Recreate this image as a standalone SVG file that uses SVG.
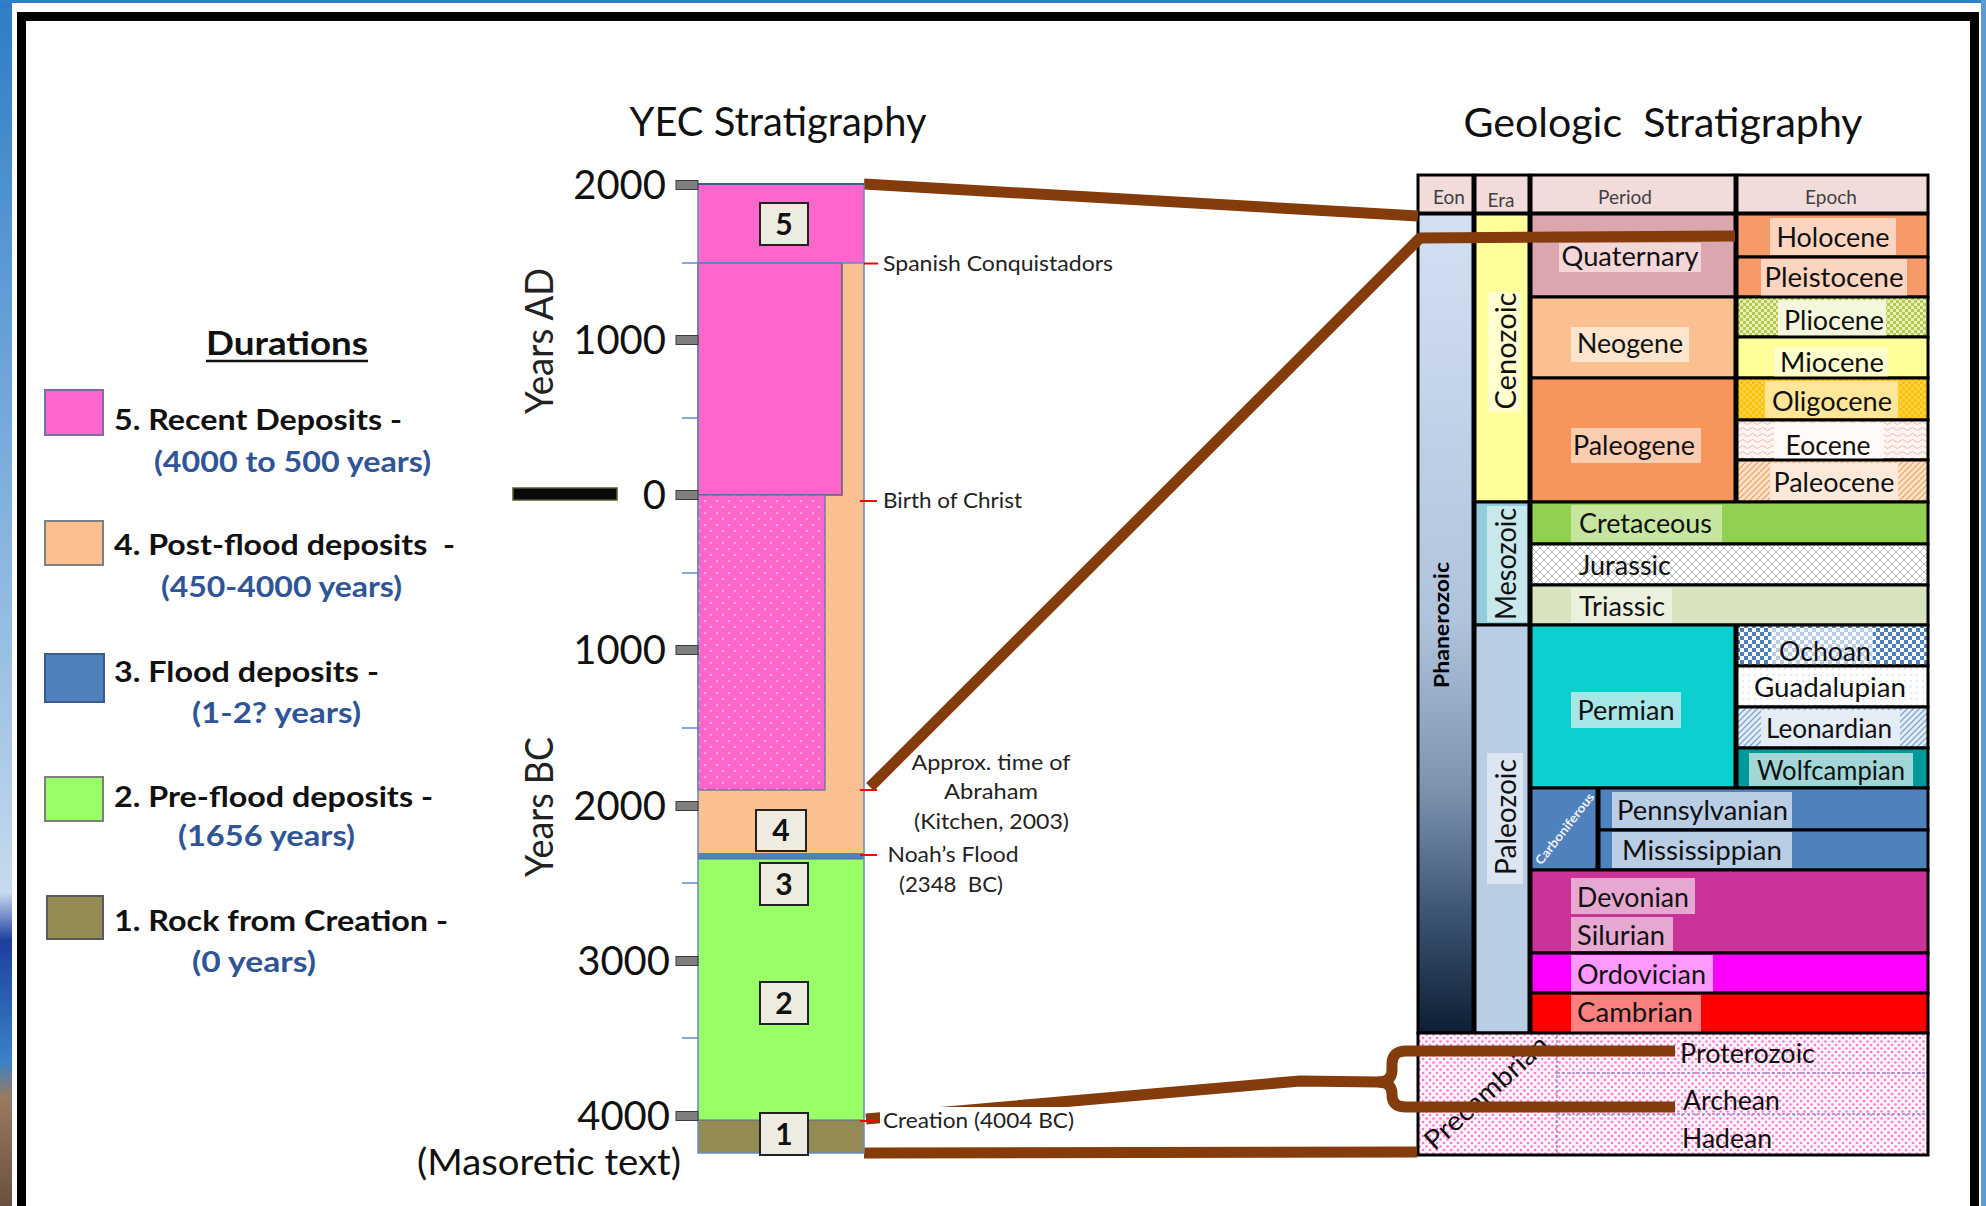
<svg xmlns="http://www.w3.org/2000/svg" width="1986" height="1206" viewBox="0 0 1986 1206">
<style>
text{font-family:Lato,"Liberation Sans",sans-serif;}
.tick{font-size:40px;fill:#111;text-anchor:end}
.leg{font-size:28px;font-weight:bold;fill:#111}
.legb{font-size:28px;font-weight:bold;fill:#2F5597}
.ann{font-size:22px;fill:#222}
.lbl{font-size:27px;fill:#111}
.mid{text-anchor:middle}
.hdr{font-size:19px;fill:#404040;text-anchor:middle}
.box{fill:#EEECE1;stroke:#222;stroke-width:2}
.boxt{font-size:30px;font-weight:bold;text-anchor:middle;fill:#111}
.conn{stroke:#843C0C;stroke-width:11;fill:none;stroke-linejoin:round}
.cell{stroke:#000;stroke-width:3}
.tk{fill:#7F7F7F;stroke:#3A3A3A;stroke-width:1}
.mt{stroke:#5B8BD0;stroke-width:1.5}
.rt{stroke:#FF0000;stroke-width:2}
.dl{stroke:#8C8CCC;stroke-width:1.5;stroke-dasharray:3 2}
</style>
<defs>
<linearGradient id="leftBg" x1="0" y1="0" x2="0" y2="1">
<stop offset="0" stop-color="#2D7DC6"/><stop offset="0.3" stop-color="#6CA3D8"/><stop offset="0.6" stop-color="#A6C6E6"/><stop offset="0.74" stop-color="#C8DAEE"/><stop offset="0.78" stop-color="#1E3E9E"/><stop offset="0.88" stop-color="#3A82C8"/><stop offset="0.91" stop-color="#9A7A60"/><stop offset="1" stop-color="#6A5040"/>
</linearGradient>
<linearGradient id="phan" x1="0" y1="0" x2="0" y2="1">
<stop offset="0" stop-color="#D3E0F2"/><stop offset="0.5" stop-color="#AFC3DC"/><stop offset="0.7" stop-color="#7D93B0"/><stop offset="0.86" stop-color="#3A5272"/><stop offset="1" stop-color="#0E1E33"/>
</linearGradient>
<pattern id="pcDots" width="7" height="7" patternUnits="userSpaceOnUse"><rect width="7" height="7" fill="#FFF4FB"/><circle cx="2" cy="2" r="1.3" fill="#FF77D0"/><circle cx="5.5" cy="5.5" r="1.3" fill="#FF77D0"/></pattern>
<pattern id="yecDots" width="12" height="12" patternUnits="userSpaceOnUse"><rect width="12" height="12" fill="#FF66CC"/><circle cx="3" cy="3" r="1.2" fill="#FFB0D8"/><circle cx="9" cy="9" r="1.2" fill="#FFB0D8"/></pattern>
<pattern id="jur" width="8" height="8" patternUnits="userSpaceOnUse"><rect width="8" height="8" fill="#FFFFFF"/><path d="M0,0 L8,8 M8,0 L0,8" stroke="#B8B8B8" stroke-width="1"/></pattern>
<pattern id="plio" width="6" height="6" patternUnits="userSpaceOnUse"><rect width="6" height="6" fill="#E9F0BC"/><rect width="3" height="3" fill="#B5C94A"/><rect x="3" y="3" width="3" height="3" fill="#B5C94A"/></pattern>
<pattern id="oligo" width="6" height="6" patternUnits="userSpaceOnUse"><rect width="6" height="6" fill="#FFC000"/><rect width="3" height="3" fill="#FFD24D"/><rect x="3" y="3" width="3" height="3" fill="#FFD24D"/></pattern>
<pattern id="eoc" width="10" height="6" patternUnits="userSpaceOnUse"><rect width="10" height="6" fill="#FFF6F2"/><path d="M0,3 Q2.5,0 5,3 T10,3" stroke="#F4B8A8" fill="none" stroke-width="1"/></pattern>
<pattern id="paleoc" width="6" height="6" patternUnits="userSpaceOnUse"><rect width="6" height="6" fill="#FDE3CC"/><path d="M0,6 L6,0 M-1,1 L1,-1 M5,7 L7,5" stroke="#F5A866" stroke-width="1.3"/></pattern>
<pattern id="ochoan" width="8" height="8" patternUnits="userSpaceOnUse"><rect width="8" height="8" fill="#FFFFFF"/><rect width="4" height="4" fill="#4F81BD"/><rect x="4" y="4" width="4" height="4" fill="#4F81BD"/></pattern>
<pattern id="guad" width="6" height="6" patternUnits="userSpaceOnUse"><rect width="6" height="6" fill="#FFFFFF"/><circle cx="3" cy="3" r="0.8" fill="#C8D0E0"/></pattern>
<pattern id="leon" width="6" height="6" patternUnits="userSpaceOnUse"><rect width="6" height="6" fill="#E4ECF6"/><path d="M0,6 L6,0 M-1,1 L1,-1 M5,7 L7,5" stroke="#7FA4D4" stroke-width="1.3"/></pattern>
</defs>

<g id="background">
<rect x="0" y="0" width="1986" height="1206" fill="#FFFFFF"/>
<rect x="0" y="0" width="12" height="1206" fill="url(#leftBg)"/>
<rect x="0" y="0" width="1986" height="3" fill="#2F80C8"/>
<rect x="1981" y="0" width="5" height="1206" fill="#5C9AD4"/>
<rect x="21.5" y="16.5" width="1953" height="1195" fill="#FFFFFF" stroke="#000" stroke-width="9"/>
</g>

<g id="titles">
<text x="778" y="136" class="mid" font-size="40" fill="#111" textLength="297" lengthAdjust="spacingAndGlyphs">YEC Stratigraphy</text>
<text x="1663" y="137" class="mid" font-size="40" fill="#111" textLength="399" lengthAdjust="spacingAndGlyphs" xml:space="preserve">Geologic  Stratigraphy</text>
</g>

<g id="legend">
<text x="287" y="355" class="mid" font-size="32" font-weight="bold" fill="#111" textLength="162" lengthAdjust="spacingAndGlyphs">Durations</text>
<line x1="206" y1="361" x2="368" y2="361" stroke="#111" stroke-width="2.5"/>
<g id="leg5"><rect x="45" y="390" width="58" height="45" fill="#FF66CC" stroke="#7F6FA0" stroke-width="2"/>
<text x="114" y="430" class="leg" textLength="288" lengthAdjust="spacingAndGlyphs">5. Recent Deposits -</text>
<text x="154" y="472" class="legb" textLength="277" lengthAdjust="spacingAndGlyphs">(4000 to 500 years)</text></g>
<g id="leg4"><rect x="45" y="521" width="58" height="44" fill="#FAC090" stroke="#7F7F7F" stroke-width="2"/>
<text x="114" y="555" class="leg" textLength="341" lengthAdjust="spacingAndGlyphs" xml:space="preserve">4. Post-flood deposits  -</text>
<text x="161" y="597" class="legb" textLength="241" lengthAdjust="spacingAndGlyphs">(450-4000 years)</text></g>
<g id="leg3"><rect x="45" y="654" width="59" height="48" fill="#4F81BD" stroke="#385D8A" stroke-width="2"/>
<text x="114" y="682" class="leg" textLength="265" lengthAdjust="spacingAndGlyphs">3. Flood deposits -</text>
<text x="192" y="723" class="legb" textLength="169" lengthAdjust="spacingAndGlyphs">(1-2? years)</text></g>
<g id="leg2"><rect x="45" y="777" width="58" height="44" fill="#99FF66" stroke="#7F7F7F" stroke-width="2"/>
<text x="114" y="807" class="leg" textLength="319" lengthAdjust="spacingAndGlyphs">2. Pre-flood deposits -</text>
<text x="178" y="846" class="legb" textLength="177" lengthAdjust="spacingAndGlyphs">(1656 years)</text></g>
<g id="leg1"><rect x="47" y="896" width="56" height="43" fill="#948A54" stroke="#5A5A5A" stroke-width="2"/>
<text x="114" y="931" class="leg" textLength="334" lengthAdjust="spacingAndGlyphs">1. Rock from Creation -</text>
<text x="192" y="972" class="legb" textLength="124" lengthAdjust="spacingAndGlyphs">(0 years)</text></g>
</g>

<g id="geologic-table">
<g id="header">
<rect x="1418" y="175" width="55" height="38" fill="#F2DCDB" class="cell"/>
<rect x="1475" y="175" width="54" height="38" fill="#F2DCDB" class="cell"/>
<rect x="1531" y="175" width="204" height="38" fill="#F2DCDB" class="cell"/>
<rect x="1737" y="175" width="191" height="38" fill="#F2DCDB" class="cell"/>
<text x="1449" y="204" class="hdr">Eon</text>
<text x="1501" y="207" class="hdr">Era</text>
<text x="1625" y="204" class="hdr">Period</text>
<text x="1831" y="204" class="hdr">Epoch</text>
</g>
<g id="eon-phanerozoic">
<rect x="1418" y="214" width="55" height="819" fill="url(#phan)" class="cell"/>
<text x="1442" y="632" transform="rotate(-90 1442 625)" class="mid" font-size="20" font-weight="bold" fill="#000" textLength="126" lengthAdjust="spacingAndGlyphs">Phanerozoic</text>
</g>
<g id="era-cenozoic">
<rect x="1475" y="214" width="54" height="288" fill="#FFFF99" class="cell"/>
<rect x="1488" y="292" width="33" height="120" fill="#FFFFD0"/>
<text x="1506" y="361" transform="rotate(-90 1506 351)" class="mid" font-size="28" fill="#111" textLength="117" lengthAdjust="spacingAndGlyphs">Cenozoic</text>
</g>
<g id="era-mesozoic">
<rect x="1475" y="502" width="54" height="123" fill="#93CDDD" class="cell"/>
<rect x="1487" y="506" width="40" height="116" fill="#C9E8EC"/>
<text x="1506" y="574" transform="rotate(-90 1506 564)" class="mid" font-size="28" fill="#111" textLength="112" lengthAdjust="spacingAndGlyphs">Mesozoic</text>
</g>
<g id="era-paleozoic">
<rect x="1475" y="625" width="54" height="408" fill="#B9CDE5" class="cell"/>
<rect x="1487" y="753" width="36" height="131" fill="#DCE6F2"/>
<text x="1506" y="827" transform="rotate(-90 1506 817)" class="mid" font-size="28" fill="#111" textLength="116" lengthAdjust="spacingAndGlyphs">Paleozoic</text>
</g>

<g id="quaternary"><rect x="1531" y="214" width="204" height="83" fill="#DBA6AD" class="cell"/>
<rect x="1559" y="243" width="142" height="29" fill="#F2D6D8"/>
<text x="1630" y="266" class="lbl mid" textLength="137" lengthAdjust="spacingAndGlyphs">Quaternary</text></g>
<g id="neogene"><rect x="1531" y="297" width="204" height="81" fill="#FAC090" class="cell"/>
<rect x="1571" y="327" width="118" height="35" fill="#FDE4CC"/>
<text x="1630" y="353" class="lbl mid" textLength="106" lengthAdjust="spacingAndGlyphs">Neogene</text></g>
<g id="paleogene"><rect x="1531" y="378" width="204" height="124" fill="#F8955D" class="cell"/>
<rect x="1571" y="428" width="130" height="35" fill="#FBCDB0"/>
<text x="1634" y="455" class="lbl mid" textLength="122" lengthAdjust="spacingAndGlyphs">Paleogene</text></g>

<g id="holocene"><rect x="1737" y="214" width="191" height="43" fill="#F79A6A" class="cell"/>
<rect x="1770" y="218" width="126" height="37" fill="#FBD5C0"/>
<text x="1833" y="247" class="lbl mid" textLength="113" lengthAdjust="spacingAndGlyphs">Holocene</text></g>
<g id="pleistocene"><rect x="1737" y="257" width="191" height="40" fill="#F79A6A" class="cell"/>
<rect x="1761" y="259" width="146" height="37" fill="#FBD5C0"/>
<text x="1834" y="287" class="lbl mid" textLength="139" lengthAdjust="spacingAndGlyphs">Pleistocene</text></g>
<g id="pliocene"><rect x="1737" y="297" width="191" height="40" fill="url(#plio)" class="cell"/>
<rect x="1778" y="300" width="108" height="36" fill="#F4F7DC"/>
<text x="1834" y="330" class="lbl mid" textLength="100" lengthAdjust="spacingAndGlyphs">Pliocene</text></g>
<g id="miocene"><rect x="1737" y="337" width="191" height="41" fill="#FFFF99" class="cell"/>
<rect x="1774" y="347" width="114" height="30" fill="#FFFFCC"/>
<text x="1832" y="372" class="lbl mid" textLength="104" lengthAdjust="spacingAndGlyphs">Miocene</text></g>
<g id="oligocene"><rect x="1737" y="378" width="191" height="42" fill="url(#oligo)" class="cell"/>
<rect x="1765" y="381" width="133" height="37" fill="#FFE699"/>
<text x="1832" y="411" class="lbl mid" textLength="120" lengthAdjust="spacingAndGlyphs">Oligocene</text></g>
<g id="eocene"><rect x="1737" y="420" width="191" height="40" fill="url(#eoc)" class="cell"/>
<rect x="1774" y="423" width="110" height="36" fill="#FFFAF8"/>
<text x="1828" y="455" class="lbl mid" textLength="85" lengthAdjust="spacingAndGlyphs">Eocene</text></g>
<g id="paleocene"><rect x="1737" y="460" width="191" height="42" fill="url(#paleoc)" class="cell"/>
<rect x="1770" y="463" width="128" height="37" fill="#FDE9D9"/>
<text x="1834" y="492" class="lbl mid" textLength="121" lengthAdjust="spacingAndGlyphs">Paleocene</text></g>

<g id="cretaceous"><rect x="1531" y="502" width="397" height="42" fill="#92D050" class="cell"/>
<rect x="1571" y="505" width="151" height="37" fill="#C6E6A0"/>
<text x="1579" y="533" class="lbl" textLength="133" lengthAdjust="spacingAndGlyphs">Cretaceous</text></g>
<g id="jurassic"><rect x="1531" y="544" width="397" height="41" fill="url(#jur)" class="cell"/>
<text x="1579" y="575" class="lbl" textLength="92" lengthAdjust="spacingAndGlyphs">Jurassic</text></g>
<g id="triassic"><rect x="1531" y="585" width="397" height="40" fill="#D7E4BD" class="cell"/>
<rect x="1571" y="588" width="101" height="35" fill="#EBF1DE"/>
<text x="1579" y="616" class="lbl" textLength="86" lengthAdjust="spacingAndGlyphs">Triassic</text></g>

<g id="permian"><rect x="1531" y="625" width="204" height="163" fill="#0CCFCF" class="cell"/>
<rect x="1571" y="692" width="110" height="36" fill="#A6E6E6"/>
<text x="1626" y="720" class="lbl mid" textLength="97" lengthAdjust="spacingAndGlyphs">Permian</text></g>
<g id="ochoan"><rect x="1737" y="625" width="191" height="41" fill="url(#ochoan)" class="cell"/>
<rect x="1771" y="628" width="102" height="36" fill="#FFFFFF" fill-opacity="0.6"/>
<text x="1825" y="661" class="lbl mid" textLength="92" lengthAdjust="spacingAndGlyphs">Ochoan</text></g>
<g id="guadalupian"><rect x="1737" y="666" width="191" height="41" fill="url(#guad)" class="cell"/>
<text x="1830" y="697" class="lbl mid" textLength="152" lengthAdjust="spacingAndGlyphs">Guadalupian</text></g>
<g id="leonardian"><rect x="1737" y="707" width="191" height="41" fill="url(#leon)" class="cell"/>
<rect x="1761" y="710" width="139" height="36" fill="#E4ECF6"/>
<text x="1829" y="738" class="lbl mid" textLength="126" lengthAdjust="spacingAndGlyphs">Leonardian</text></g>
<g id="wolfcampian"><rect x="1737" y="748" width="191" height="40" fill="#009999" class="cell"/>
<rect x="1749" y="753" width="164" height="33" fill="#A0D6D6"/>
<text x="1831" y="780" class="lbl mid" textLength="148" lengthAdjust="spacingAndGlyphs">Wolfcampian</text></g>

<g id="carboniferous"><rect x="1531" y="788" width="66" height="82" fill="#4F81BD" class="cell"/>
<text x="1565" y="833" transform="rotate(-52 1565 829)" class="mid" font-size="12.5" font-weight="bold" fill="#F2F2F2" textLength="87" lengthAdjust="spacingAndGlyphs">Carboniferous</text></g>
<g id="pennsylvanian"><rect x="1599" y="788" width="329" height="42" fill="#4F81BD" class="cell"/>
<rect x="1612" y="792" width="180" height="36" fill="#B9CDE5"/>
<text x="1617" y="820" class="lbl" textLength="171" lengthAdjust="spacingAndGlyphs">Pennsylvanian</text></g>
<g id="mississippian"><rect x="1599" y="830" width="329" height="40" fill="#4F81BD" class="cell"/>
<rect x="1612" y="832" width="180" height="36" fill="#B9CDE5"/>
<text x="1622" y="860" class="lbl" textLength="160" lengthAdjust="spacingAndGlyphs">Mississippian</text></g>

<g id="devonian-silurian"><rect x="1531" y="870" width="397" height="83" fill="#CC3399" class="cell"/>
<rect x="1571" y="878" width="124" height="36" fill="#E6A8D0"/>
<rect x="1571" y="917" width="102" height="34" fill="#E6A8D0"/>
<text x="1577" y="907" class="lbl" textLength="112" lengthAdjust="spacingAndGlyphs">Devonian</text>
<text x="1577" y="945" class="lbl" textLength="88" lengthAdjust="spacingAndGlyphs">Silurian</text></g>
<g id="ordovician"><rect x="1531" y="953" width="397" height="40" fill="#FF00FF" class="cell"/>
<rect x="1571" y="955" width="142" height="37" fill="#FF99FF"/>
<text x="1577" y="984" class="lbl" textLength="129" lengthAdjust="spacingAndGlyphs">Ordovician</text></g>
<g id="cambrian"><rect x="1531" y="993" width="397" height="40" fill="#FF0000" class="cell"/>
<rect x="1571" y="995" width="130" height="37" fill="#FF8080"/>
<text x="1577" y="1022" class="lbl" textLength="116" lengthAdjust="spacingAndGlyphs">Cambrian</text></g>

<g id="precambrian"><rect x="1418" y="1033" width="510" height="122" fill="url(#pcDots)" class="cell"/>
<line x1="1557" y1="1035" x2="1557" y2="1153" class="dl"/>
<line x1="1557" y1="1073" x2="1926" y2="1073" class="dl"/>
<line x1="1557" y1="1114" x2="1926" y2="1114" class="dl"/>
<text x="1486" y="1101.7" transform="rotate(-42 1486 1092)" class="lbl mid" textLength="156" lengthAdjust="spacingAndGlyphs">Precambrian</text>
<text x="1680" y="1063" class="lbl" textLength="135" lengthAdjust="spacingAndGlyphs">Proterozoic</text>
<text x="1683" y="1110" class="lbl" textLength="97" lengthAdjust="spacingAndGlyphs">Archean</text>
<text x="1682" y="1148" class="lbl" textLength="90" lengthAdjust="spacingAndGlyphs">Hadean</text></g>
</g>

<g id="connectors">
<path class="conn" stroke-width="12" d="M864,184 L1418,216"/>
<path class="conn" d="M870,787 L1420,238 L1735,236"/>
<path class="conn" stroke-width="12" d="M864,1153 L1417,1152"/>
<path class="conn" stroke-width="10" d="M866,1119 L1300,1081 L1378,1082 Q1392,1082 1392,1070 L1392,1064 Q1392,1051 1406,1051 L1675,1051"/>
<path class="conn" stroke-width="10" d="M1378,1082 Q1392,1082 1392,1094 L1392,1095 Q1392,1107 1406,1107 L1675,1107"/>
</g>

<g id="yec-column">
<rect x="698" y="263" width="166" height="596" fill="#FAC090"/>
<rect x="698" y="184" width="166" height="79" fill="#FF66CC"/>
<rect x="698" y="263" width="144" height="232" fill="#FF66CC" stroke="#5B5B7B" stroke-width="1.5"/>
<rect x="698" y="495" width="127" height="295" fill="url(#yecDots)" stroke="#4F6FA0" stroke-width="1.2"/>
<rect x="698" y="853" width="166" height="6" fill="#4F81BD"/>
<rect x="698" y="859" width="166" height="261" fill="#99FF66"/>
<rect x="698" y="1120" width="166" height="33" fill="#948A54"/>
<line x1="698" y1="1120" x2="864" y2="1120" stroke="#4F6FA0" stroke-width="1.2"/>
<line x1="698" y1="859" x2="864" y2="859" stroke="#4F6FA0" stroke-width="1.2"/>
<rect x="698" y="184" width="166" height="969" fill="none" stroke="#6A8AC0" stroke-width="1.5"/>
<line x1="698" y1="184" x2="864" y2="184" stroke="#3F5F90" stroke-width="2"/>
<line x1="682" y1="263" x2="864" y2="263" class="mt"/>
<line x1="682" y1="418" x2="698" y2="418" class="mt"/>
<line x1="682" y1="573" x2="698" y2="573" class="mt"/>
<line x1="682" y1="728" x2="698" y2="728" class="mt"/>
<line x1="682" y1="883" x2="698" y2="883" class="mt"/>
<line x1="682" y1="1038" x2="698" y2="1038" class="mt"/>
<rect x="676" y="180.5" width="22" height="9" class="tk"/>
<rect x="676" y="335.5" width="22" height="9" class="tk"/>
<rect x="676" y="490.5" width="22" height="9" class="tk"/>
<rect x="676" y="645.5" width="22" height="9" class="tk"/>
<rect x="676" y="801.5" width="22" height="9" class="tk"/>
<rect x="676" y="956.5" width="22" height="9" class="tk"/>
<rect x="676" y="1111.5" width="22" height="9" class="tk"/>
<text x="666" y="199.4" class="tick">2000</text>
<text x="666" y="354.4" class="tick">1000</text>
<text x="666" y="509.4" class="tick">0</text>
<text x="666" y="664.4" class="tick">1000</text>
<text x="666" y="820.4" class="tick">2000</text>
<text x="670" y="975.4" class="tick">3000</text>
<text x="670" y="1130.4" class="tick">4000</text>
<rect x="513" y="488" width="104" height="12" fill="#0A0A0A" stroke="#5A5A30" stroke-width="1.5"/>
<text x="539" y="355" transform="rotate(-90 539 341)" class="mid" font-size="38" fill="#222" textLength="146" lengthAdjust="spacingAndGlyphs">Years AD</text>
<text x="539" y="821" transform="rotate(-90 539 807)" class="mid" font-size="38" fill="#222" textLength="140" lengthAdjust="spacingAndGlyphs">Years BC</text>
<text x="417" y="1175" font-size="37" fill="#111" textLength="264" lengthAdjust="spacingAndGlyphs">(Masoretic text)</text>
<rect x="760" y="203" width="48" height="42" class="box"/><text x="784" y="235" class="boxt">5</text>
<rect x="756" y="810" width="50" height="41" class="box"/><text x="781" y="841" class="boxt">4</text>
<rect x="760" y="863" width="48" height="42" class="box"/><text x="784" y="895" class="boxt">3</text>
<rect x="760" y="982" width="48" height="42" class="box"/><text x="784" y="1014" class="boxt">2</text>
<rect x="760" y="1113" width="48" height="42" class="box"/><text x="784" y="1145" class="boxt">1</text>
<line x1="864" y1="263.5" x2="878" y2="263.5" class="rt"/>
<line x1="860" y1="501" x2="877" y2="501" class="rt"/>
<line x1="860" y1="790" x2="877" y2="790" class="rt"/>
<line x1="860" y1="855" x2="877" y2="855" class="rt"/>
<line x1="860" y1="1121" x2="877" y2="1121" class="rt"/>
<text x="883" y="271" class="ann" textLength="230" lengthAdjust="spacingAndGlyphs">Spanish Conquistadors</text>
<text x="883" y="508" class="ann" textLength="139" lengthAdjust="spacingAndGlyphs">Birth of Christ</text>
<text x="991" y="770" class="ann mid" textLength="159" lengthAdjust="spacingAndGlyphs">Approx. time of</text>
<text x="991" y="799" class="ann mid" textLength="94" lengthAdjust="spacingAndGlyphs">Abraham</text>
<text x="991.5" y="829" class="ann mid" textLength="155" lengthAdjust="spacingAndGlyphs">(Kitchen, 2003)</text>
<text x="887.5" y="862" class="ann" textLength="131" lengthAdjust="spacingAndGlyphs">Noah’s Flood</text>
<text x="899" y="892" class="ann" textLength="104" lengthAdjust="spacingAndGlyphs" xml:space="preserve">(2348  BC)</text>
<rect x="880" y="1107" width="198" height="28" fill="#FFFFFF"/>
<text x="883" y="1128" class="ann" textLength="191" lengthAdjust="spacingAndGlyphs">Creation (4004 BC)</text>
</g>
</svg>
